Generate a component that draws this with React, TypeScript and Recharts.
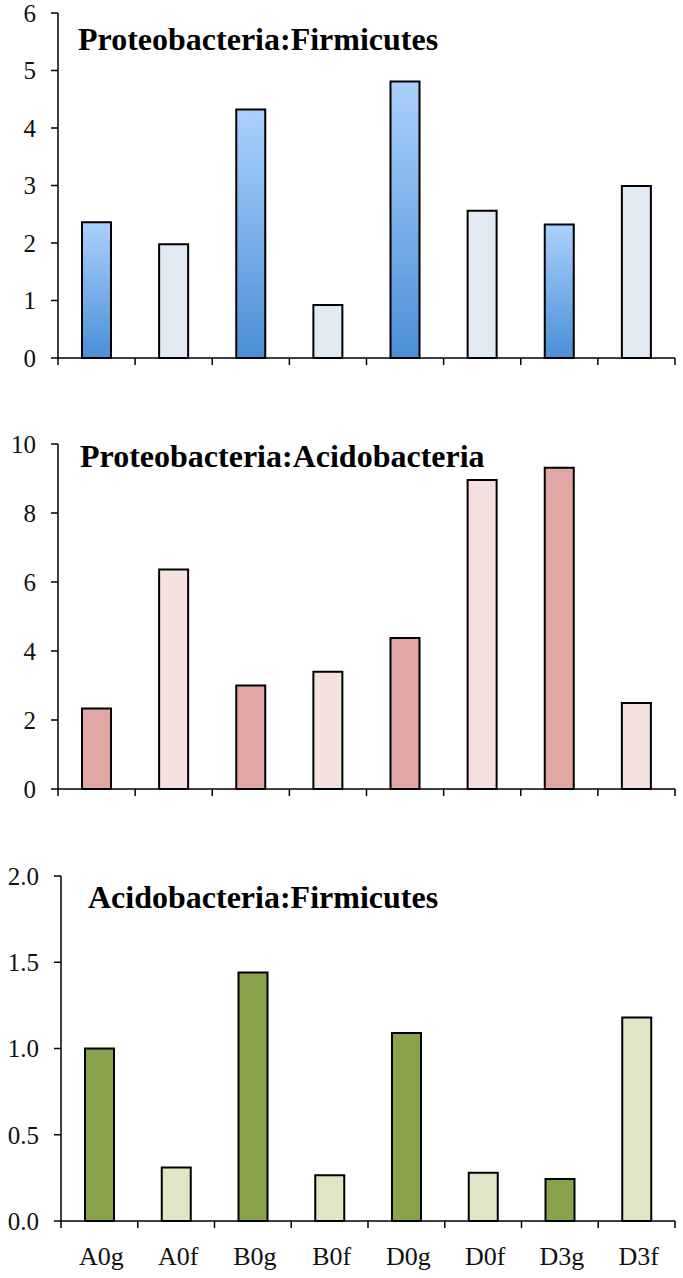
import React from 'react';
import { BarChart, Bar, XAxis, YAxis, Cell, Customized } from 'recharts';

const categories = ['A0g', 'A0f', 'B0g', 'B0f', 'D0g', 'D0f', 'D3g', 'D3f'];
const proteoFirmicutes = [2.36, 1.98, 4.32, 0.92, 4.81, 2.56, 2.32, 2.99];
const proteoAcido = [2.33, 6.36, 3.0, 3.4, 4.38, 8.96, 9.31, 2.49];
const acidoFirmicutes = [1.0, 0.31, 1.44, 0.265, 1.09, 0.28, 0.244, 1.18];
const ticks1 = [0, 1, 2, 3, 4, 5, 6];
const ticks2 = [0, 2, 4, 6, 8, 10];
const ticks3 = [0, 0.5, 1, 1.5, 2];
const titles = ['Proteobacteria:Firmicutes', 'Proteobacteria:Acidobacteria', 'Acidobacteria:Firmicutes'];

const FONT = '"Liberation Serif", "Times New Roman", serif';
const xTicks = Array.from({ length: 17 }, (_, i) => i / 2);

type PanelProps = {
  values: number[];
  yTicks: number[];
  title: string;
  titleX: number;
  titleY: number;
  dark: string;
  light: string;
  showLabels: boolean;
  yWidth: number;
  xHeight: number;
  top: number;
  fmt?: (v: number) => string;
  gradient?: boolean;
};

const makeXTick = (showLabels: boolean) => (props: any) => {
  const { x, y, payload } = props;
  const v = payload.value as number;
  if (Number.isInteger(v)) {
    return <line x1={x} x2={x} y1={y} y2={y + 7} stroke="#000" strokeWidth={1.5} />;
  }
  if (!showLabels) return <g />;
  const name = categories[Math.floor(v)];
  return (
    <text x={x + 2} y={y + 44} textAnchor="middle" fontSize={26} fontFamily={FONT} fill="#111">
      {name}
    </text>
  );
};

function Panel(p: PanelProps) {
  const data = categories.map((name, i) => ({ name, pos: i + 0.5, value: p.values[i] }));
  const height = 13 + 345 + p.xHeight;
  const darkFill = p.gradient ? 'url(#blueGrad)' : p.dark;
  return (
    <div style={{ position: 'absolute', left: 0, top: p.top }}>
      <BarChart width={683} height={height} data={data} margin={{ top: 13, right: 8, bottom: 0, left: 0 }}>
        <defs>
          <linearGradient id="blueGrad" x1="0" y1="0" x2="0" y2="1">
            <stop offset="0" stopColor="#abd0fd" />
            <stop offset="1" stopColor="#4a8fd6" />
          </linearGradient>
        </defs>
        <XAxis
          dataKey="pos"
          type="number"
          domain={[0, 8]}
          ticks={xTicks}
          interval={0}
          tickLine={false}
          tickSize={0}
          tickMargin={0}
          height={p.xHeight}
          axisLine={{ stroke: '#000', strokeWidth: 1.5 }}
          tick={makeXTick(p.showLabels)}
        />
        <YAxis
          type="number"
          domain={[p.yTicks[0], p.yTicks[p.yTicks.length - 1]]}
          ticks={p.yTicks}
          interval={0}
          width={p.yWidth}
          tickSize={7}
          tickMargin={15}
          tickFormatter={p.fmt}
          axisLine={{ stroke: '#000', strokeWidth: 1.5 }}
          tickLine={{ stroke: '#000', strokeWidth: 1.5 }}
          tick={{ fontSize: 25, fontFamily: FONT, fill: '#111' }}
        />
        <Bar dataKey="value" barSize={29} stroke="#000" strokeWidth={2} isAnimationActive={false}>
          {data.map((d, i) => (
            <Cell key={i} fill={d.name.endsWith('g') ? darkFill : p.light} />
          ))}
        </Bar>
        <Customized
          component={() => (
            <text x={p.titleX} y={p.titleY} fontSize={32} fontWeight="bold" fontFamily={FONT} fill="#000">
              {p.title}
            </text>
          )}
        />
      </BarChart>
    </div>
  );
}

export default function App() {
  return (
    <div style={{ position: 'absolute', left: 0, top: 0, width: 683, height: 1278, background: '#fff' }}>
      <Panel
        values={proteoFirmicutes}
        yTicks={ticks1}
        title={titles[0]}
        titleX={78}
        titleY={50}
        dark="#6fa7e6"
        light="#e1e9f3"
        showLabels={false}
        yWidth={58}
        xHeight={30}
        top={0}
        gradient
      />
      <Panel
        values={proteoAcido}
        yTicks={ticks2}
        title={titles[1]}
        titleX={80}
        titleY={36}
        dark="#e0a7a5"
        light="#f4e1e0"
        showLabels={false}
        yWidth={58}
        xHeight={30}
        top={431}
      />
      <Panel
        values={acidoFirmicutes}
        yTicks={ticks3}
        title={titles[2]}
        titleX={88}
        titleY={45}
        dark="#88a34c"
        light="#dee6c6"
        showLabels={true}
        yWidth={61}
        xHeight={50}
        top={863}
        fmt={(v: number) => v.toFixed(1)}
      />
    </div>
  );
}
